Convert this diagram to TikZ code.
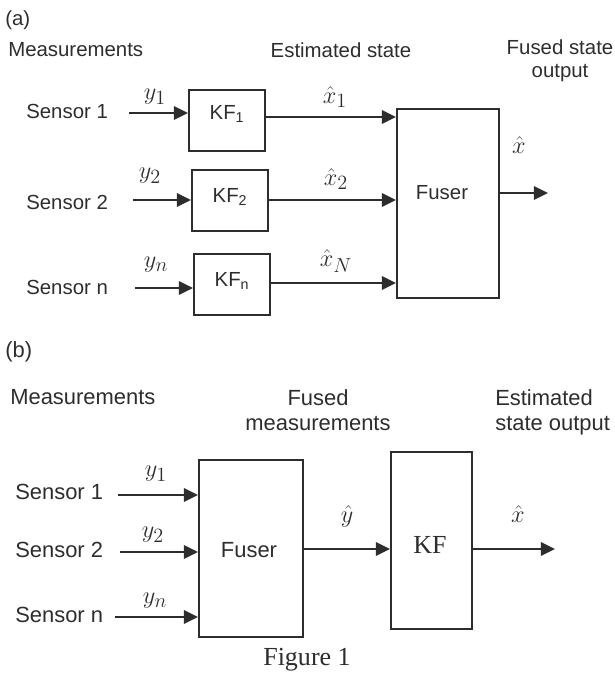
\documentclass[tikz,border=0pt]{standalone}
\usepackage{fontspec}
\setmainfont{Liberation Serif}
\setsansfont{Liberation Sans}
\usepackage{amsmath}
\usepackage{tikz}
\usetikzlibrary{arrows.meta,positioning,calc}
\definecolor{diagink}{RGB}{45,45,45}

\begin{document}
\begin{tikzpicture}[
    x=0.025cm, y=-0.025cm,
    every node/.style={font=\sffamily\fontsize{14.5}{16.5}\selectfont, text=diagink, inner sep=0pt},
    bigtxt/.style={font=\sffamily\fontsize{15.6}{18}\selectfont},
    sym/.style={font=\fontsize{19}{22}\selectfont},
    serif/.style={font=\rmfamily\fontsize{18.5}{22}\selectfont},
    blk/.style={rectangle, draw=diagink, line width=1.4pt,
                minimum width=1.9cm, minimum height=1.525cm},
    arrow/.style={-{Triangle[length=10pt, width=9.5pt]}, line width=1.4pt, color=diagink}
]
\useasboundingbox (0,0) rectangle (614,676);

% ---------- (a) one KF per sensor, then fusion
\node[anchor=west]  (tagA)  at (5,20)   {(a)};
\node[anchor=west]  (measA) at (8,50)   {Measurements};
\node               (estA)  at (341,50) {Estimated state};
\node[align=center] (outA)  at (560,61) {Fused state\\output};

\node[anchor=west] (senA1) at (26,111) {Sensor 1};
\node[anchor=west] (senA2) at (26,202) {Sensor 2};
\node[anchor=west] (senAn) at (26,287) {Sensor n};

\node[blk] (kf1) at (227,120.5) {};
\node[blk] (kf2) at (230,200.5) {};
\node[blk] (kfn) at (232,284.5) {};
\node (kf1t) at (227,114) {KF\textsubscript{1}};
\node (kf2t) at (230,197) {KF\textsubscript{2}};
\node (kfnt) at (232,281) {KF\textsubscript{n}};

\node[blk, minimum width=2.55cm, minimum height=4.725cm] (fuseA) at (448,203.5) {};
\node (fuseAt) at (442,193) {Fuser};

% input points
\coordinate (inA1) at (129,113);
\coordinate (inA2) at (133,200);
\coordinate (inAn) at (135,288);
% estimate levels
\coordinate (estA1) at (330,117);
\coordinate (estA2) at (330,200);
\coordinate (estAn) at (330,283);
\coordinate (outAend) at (548,193);

% Arrows
\draw[arrow] (inA1) -- (inA1 -| kf1.west);
\draw[arrow] (inA2) -- (inA2 -| kf2.west);
\draw[arrow] (inAn) -- (inAn -| kfn.west);
\draw[arrow] (kf1.east |- estA1) -- (estA1 -| fuseA.west);
\draw[arrow] (kf2.east |- estA2) -- (estA2 -| fuseA.west);
\draw[arrow] (kfn.east |- estAn) -- (estAn -| fuseA.west);
\draw[arrow] (fuseA.east |- outAend) -- (outAend);

% Labels
\node[sym] (yA1) at (155,97)  {$y_1$};
\node[sym] (yA2) at (150,176) {$y_2$};
\node[sym] (yAn) at (156,265) {$y_n$};
\node[sym] (xA1) at (335,97)  {$\hat{x}_1$};
\node[sym] (xA2) at (336,179) {$\hat{x}_2$};
\node[sym] (xAN) at (336,261) {$\hat{x}_N$};
\node[sym] (xA)  at (519,145) {$\hat{x}$};

% ---------- (b) fuse measurements, then one KF
\node[anchor=west, bigtxt] (tagB)   at (5,352)  {(b)};
\node[anchor=west, bigtxt] (measB)  at (10,397) {Measurements};
\node[align=center, bigtxt] (fmB)   at (318,410) {Fused\\measurements};
\node[align=left, anchor=west, bigtxt] (outB) at (495,412.5) {Estimated\\state output};

\node[anchor=west, bigtxt] (senB1) at (15,492) {Sensor 1};
\node[anchor=west, bigtxt] (senB2) at (15,550) {Sensor 2};
\node[anchor=west, bigtxt] (senBn) at (15,615) {Sensor n};

\node[blk, minimum width=2.6cm, minimum height=4.425cm]   (fuseB) at (251,548.5) {};
\node[bigtxt] (fuseBt) at (249,550) {Fuser};
\node[blk, minimum width=2.025cm, minimum height=4.425cm] (kfB) at (431.5,540.5) {};
\node[serif] (kfBt) at (430,545) {KF};

\coordinate (inB1) at (118,495);
\coordinate (inB2) at (120,552);
\coordinate (inBn) at (115,617);
\coordinate (midB) at (350,549);
\coordinate (outBend) at (555,549);

% Arrows
\draw[arrow] (inB1) -- (inB1 -| fuseB.west);
\draw[arrow] (inB2) -- (inB2 -| fuseB.west);
\draw[arrow] (inBn) -- (inBn -| fuseB.west);
\draw[arrow] (fuseB.east |- midB) -- (midB -| kfB.west);
\draw[arrow] (kfB.east |- outBend) -- (outBend);

% Labels
\node[sym] (yB1) at (156,474) {$y_1$};
\node[sym] (yB2) at (153,535) {$y_2$};
\node[sym] (yBn) at (155,601) {$y_n$};
\node[sym] (yhB) at (347,516) {$\hat{y}$};
\node[sym] (xhB) at (518,514) {$\hat{x}$};

\node[serif] (cap) at (307,660) {Figure 1};

\end{tikzpicture}
\end{document}
